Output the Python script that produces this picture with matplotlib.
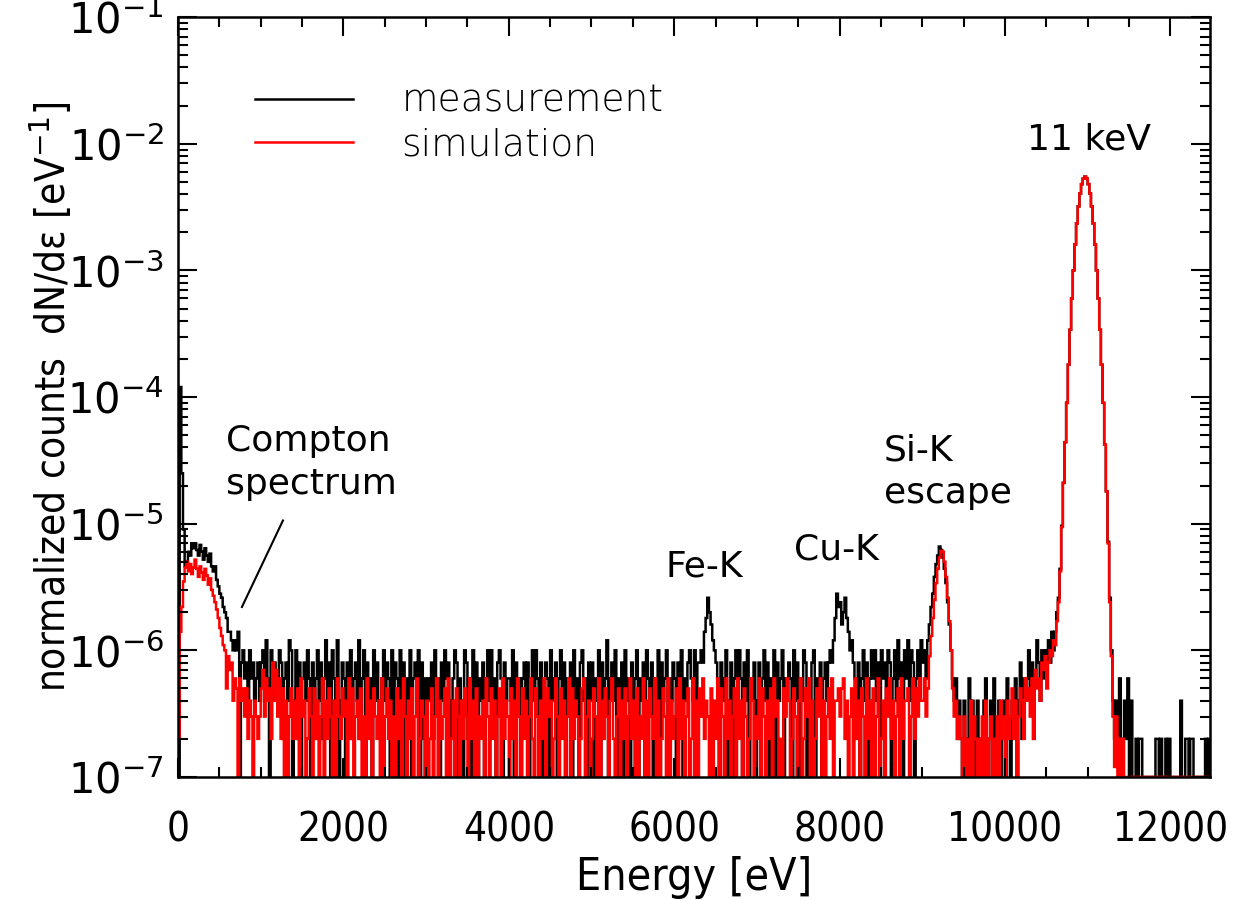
import numpy as np
import matplotlib
matplotlib.use('Agg')
import matplotlib.pyplot as plt
from matplotlib.lines import Line2D
from matplotlib.ticker import MultipleLocator, LogLocator, NullFormatter

# spectrum in 20 eV bins
bin_width = 20

# 0 - 1000 eV, units of 1e-7 / eV
meas_low = [0, 1200, 250, 90, 46, 50, 60, 56, 70, 64, 70, 62, 56, 68, 60, 52, 64, 56, 50, 58,
            46, 42, 46, 36, 32, 28, 26, 22, 20, 18, 14, 14, 12, 10, 12, 10, 14, 0, 8, 10,
            6, 8, 4, 10, 6, 8, 4, 6, 8, 4]
sim_low = [2, 14, 22, 35, 45, 50, 42, 48, 40, 45, 52, 44, 38, 46, 41, 36, 44, 39, 33, 37,
           30, 27, 24, 21, 18, 15, 13, 11, 10, 5, 9, 7, 8, 4, 6, 5, 1, 6, 4, 5,
           3, 5, 2, 4, 3, 1, 4, 3, 2, 3]

# 1000 - 9000 eV, one base-36 digit per bin (measurement: counts of 2e-7, simulation: 1e-7)
meas_mid = ("4526305243" "3541342650" "2514034253" "0413524136" "2405316024"
            "3042513426" "1350423052" "4213524305" "1430524032" "5034250413"
            "0324152304" "2534023540" "3205413052" "4032403525" "2304530423"
            "3250423034" "2403525304" "0243052340" "3524032405" "2304523042"
            "4032504236" "0342503240" "5230423503" "2405324032" "5042350324"
            "3042503245" "3250445479" "da86543042" "3502403525" "3042503240"
            "2403524032" "5042350324" "3052403254" "0324503240" "34245469eb"
            "c8ad975643" "2403524035" "3524053425" "4035263405" "3625403526")
sim_mid = ("5736452847" "3625041352" "4251634025" "3152403614" "2530416325"
           "3406251342" "5031624053" "2416035241" "3052416304" "2513602431"
           "4025136042" "3516024153" "0425316240" "5132406315" "2403516243"
           "1524063152" "4036215304" "2615340263" "1524036152" "4302561340"
           "2531604253" "1462035142" "5036241503" "2614053261" "4025316042"
           "3516240351" "2604153624" "3051426053" "1624035162" "4053126403"
           "2615304251" "6340215364" "0253146025" "3614025361" "4035261445"
           "3562403516" "2405316240" "5136024153" "6240351624" "4513625364")

# Si-K escape, 9000 - 9460 eV, units of 1e-7 / eV
meas_si = [8, 10, 6, 12, 16, 22, 28, 38, 48, 56, 66, 62, 54, 44, 34, 24, 16, 10, 6, 4, 6, 2, 4]
sim_si = [4, 6, 3, 5, 9, 13, 18, 25, 34, 44, 54, 61, 60, 50, 38, 26, 17, 10, 5, 3, 4, 2, 3]

# 9460 - 10600 eV
meas_gap = "1021031201" "2010230120" "3102012031" "0213024132" "3524136425" "3546475"
sim_gap = "2031204132" "0213140231" "2031423142" "3524135426" "4536275648" "7958a9c"

# 11 keV line, 10600 - 11340 eV, per eV
meas_peak = [1.4e-6, 2.0e-6, 2.6e-6, 4.4e-6, 9.6e-6, 2.1e-5, 4.4e-5, 9.0e-5, 1.8e-4, 3.4e-4,
             6.0e-4, 1.0e-3, 1.6e-3, 2.35e-3, 3.2e-3, 4.05e-3, 4.8e-3, 5.3e-3, 5.5e-3, 5.3e-3,
             4.8e-3, 4.05e-3, 3.2e-3, 2.35e-3, 1.6e-3, 1.0e-3, 6.0e-4, 3.4e-4, 1.8e-4, 9.0e-5,
             4.2e-5, 1.8e-5, 7.2e-6, 2.6e-6, 1.0e-6, 4e-7, 2e-7]
sim_peak = [1.1e-6, 1.7e-6, 2.4e-6, 4.2e-6, 9.4e-6, 2.1e-5, 4.4e-5, 9.0e-5, 1.8e-4, 3.4e-4,
            6.0e-4, 1.0e-3, 1.6e-3, 2.35e-3, 3.2e-3, 4.05e-3, 4.8e-3, 5.3e-3, 5.5e-3, 5.3e-3,
            4.8e-3, 4.05e-3, 3.2e-3, 2.35e-3, 1.6e-3, 1.0e-3, 6.0e-4, 3.4e-4, 1.8e-4, 9.0e-5,
            4.2e-5, 1.8e-5, 7.0e-6, 2.4e-6, 9e-7, 3e-7, 1.2e-7]

# 11340 - 12500 eV
meas_tail = "2130121302" "0010110000" "0000110100" "1010000002" "0011011000" "00001010"
sim_tail = "3120200000" "0000000000" "0000000000" "0000000000" "0000000000" "00000000"

decade_exps = [-7, -6, -5, -4, -3, -2, -1]
y_min = 1e-7


def decode(code, unit):
    return [int(c, 36) * unit for c in code]


def build(low, mid, si, gap, peak, tail, unit):
    vals = ([v * 1e-7 for v in low] + decode(mid, unit) + [v * 1e-7 for v in si]
            + decode(gap, unit) + list(peak) + decode(tail, unit))
    vals = np.array(vals)
    # empty bins sit on the bottom axis
    return np.where(vals > 0, vals, y_min)


meas = build(meas_low, meas_mid, meas_si, meas_gap, meas_peak, meas_tail, 2e-7)
sim = build(sim_low, sim_mid, sim_si, sim_gap, sim_peak, sim_tail, 1e-7)

plt.rcParams['mathtext.fontset'] = 'dejavusans'

fig = plt.figure(figsize=(12.44, 9), dpi=100)
ax = fig.add_axes([0.1431, 0.1367, 0.8296, 0.8443])

ax.stairs(meas, np.arange(len(meas) + 1) * bin_width, baseline=None, color='black', lw=1.8)
ax.stairs(sim, np.arange(len(sim) + 1) * bin_width, baseline=None, color='red', lw=1.8)

ax.set_yscale('log')
ax.set_ylim(y_min, 1e-1)
ax.set_xlim(0, 12480)

ax.set_xticks(np.arange(0, 12001, 2000))
ax.xaxis.set_minor_locator(MultipleLocator(500))
ax.set_yticks([10.0 ** e for e in decade_exps], labels=[f'$10^{{{e}}}$' for e in decade_exps])
ax.yaxis.set_minor_locator(LogLocator(base=10, subs=np.arange(2, 10)))
ax.yaxis.set_minor_formatter(NullFormatter())

ax.tick_params(which='both', direction='in', top=True, right=True, width=1.5)
ax.tick_params(which='major', length=14)
ax.tick_params(which='minor', length=7)
ax.tick_params(axis='y', labelsize=30, pad=10)
ax.tick_params(axis='x', labelsize=29, pad=24)
for lab in ax.get_xticklabels():
    lab.set_family('DejaVu Sans')
    lab.set_stretch('condensed')
    lab.set_weight('light')
for sp in ax.spines.values():
    sp.set_linewidth(1.8)

ax.set_xlabel('Energy [eV]', fontsize=32, family='DejaVu Sans', stretch='condensed',
              weight='light')
ax.xaxis.set_label_coords(0.5, -0.104)
ax.set_ylabel('normalized counts  dN/d\u03b5 [eV$^{-1}$]', fontsize=29,
              family='DejaVu Sans', stretch='condensed')
ax.yaxis.set_label_coords(-0.10, 0.5)

handles = [Line2D([], [], color='black', lw=1.8), Line2D([], [], color='red', lw=1.8)]
ax.legend(handles, ['measurement', 'simulation'], loc='upper left',
          bbox_to_anchor=(0.0746, 0.912), frameon=False,
          prop={'size': 27, 'weight': 'light'},
          handlelength=2.6, handletextpad=1.3, labelspacing=0.22,
          borderpad=0, borderaxespad=0)

ax.text(11021, 1.08e-2, '11 keV', fontsize=26, ha='center', va='center')
ax.text(580, 3.05e-5, 'Compton\nspectrum', fontsize=26, ha='left', va='center',
        linespacing=1.32)
ax.text(8532, 2.59e-5, 'Si-K\nescape', fontsize=26, ha='left', va='center',
        linespacing=1.32)
ax.text(6369, 4.56e-6, 'Fe-K', fontsize=26, ha='center', va='center')
ax.text(7964, 6.3e-6, 'Cu-K', fontsize=26, ha='center', va='center')
ax.plot([1269, 773], [1.06e-5, 2.2e-6], color='black', lw=1.5)

fig.savefig('out.png', dpi=100)
